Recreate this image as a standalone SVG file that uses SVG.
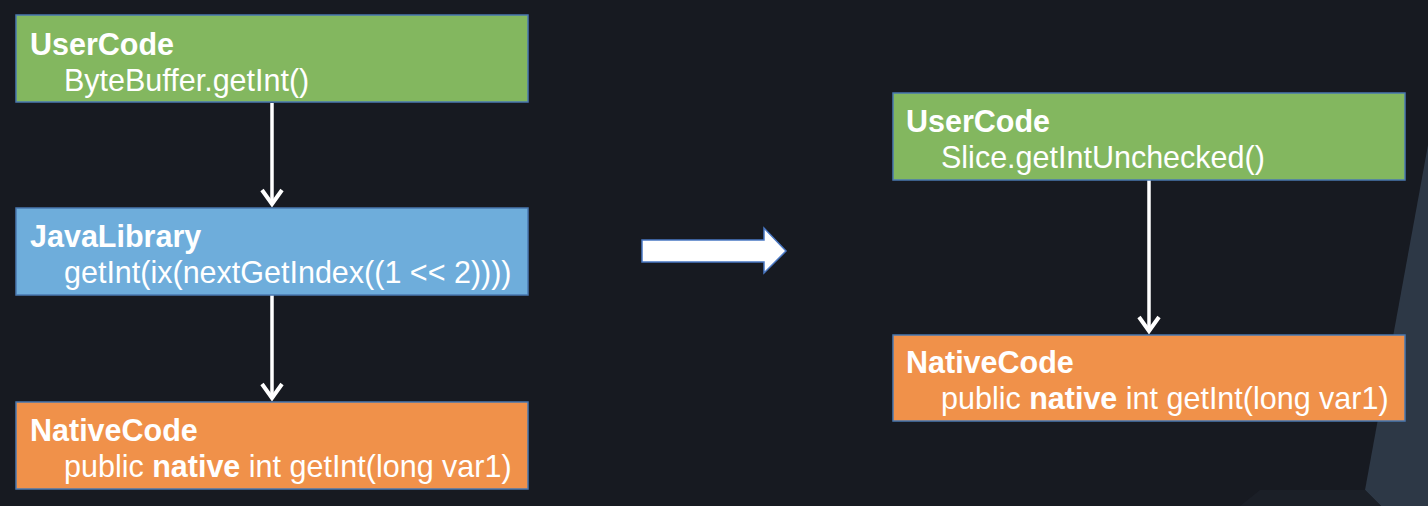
<svg xmlns="http://www.w3.org/2000/svg" width="1428" height="506" viewBox="0 0 1428 506">
<style>
.box{stroke:#4a78b0;stroke-width:1.5}
.green{fill:#83b75f}
.blue{fill:#6eaddb}
.orange{fill:#f0914a}
text{font-family:"Liberation Sans",Arial,sans-serif;font-size:30.5px;fill:#ffffff}
.t{font-weight:bold}
.b{font-weight:bold}
.conn{stroke:#ffffff;stroke-width:3.5;fill:none}
</style>
<defs>
<marker id="chev" markerUnits="userSpaceOnUse" orient="auto" refX="0" refY="0" markerWidth="40" markerHeight="40" viewBox="-20 -20 40 40" overflow="visible">
<path d="M-14,-10 L0,0 L-14,10" fill="none" stroke="#ffffff" stroke-width="4" stroke-linejoin="miter"/>
</marker>
</defs>
<rect x="0" y="0" width="1428" height="506" fill="#171a21"/>
<polygon points="1428,145 1365,490 1381,506 1428,506" fill="#2d3846"/>
<polygon points="1365,490 1381,506 1240,506 1260,490" fill="#1b1f27"/>

<g id="connectors">
<line class="conn" x1="272" y1="103" x2="272" y2="204" marker-end="url(#chev)"/>
<line class="conn" x1="272" y1="295" x2="272" y2="398" marker-end="url(#chev)"/>
<line class="conn" x1="1149" y1="180" x2="1149" y2="331" marker-end="url(#chev)"/>
<polygon id="big-arrow" points="642,240 764,240 764,228 786,251 764,273 764,262 642,262" fill="#ffffff" stroke="#4a78c4" stroke-width="1.5"/>
</g>

<g id="user-left">
<rect class="box green" x="16" y="15" width="512" height="87"/>
<text x="30" y="55" class="t">UserCode</text>
<text x="64" y="91">ByteBuffer.getInt()</text>
</g>

<g id="java-library">
<rect class="box blue" x="16" y="208" width="512" height="87"/>
<text x="30" y="247" class="t">JavaLibrary</text>
<text x="64" y="283">getInt(ix(nextGetIndex((1 &lt;&lt; 2))))</text>
</g>

<g id="native-left">
<rect class="box orange" x="16" y="402" width="512" height="87"/>
<text x="30" y="441" class="t">NativeCode</text>
<text x="64" y="477">public <tspan class="b">native</tspan> int getInt(long var1)</text>
</g>

<g id="user-right">
<rect class="box green" x="893" y="93" width="512" height="87"/>
<text x="906" y="132" class="t">UserCode</text>
<text x="941" y="168">Slice.getIntUnchecked()</text>
</g>

<g id="native-right">
<rect class="box orange" x="893" y="335" width="512" height="86"/>
<text x="906" y="373" class="t">NativeCode</text>
<text x="941" y="409">public <tspan class="b">native</tspan> int getInt(long var1)</text>
</g>
</svg>
